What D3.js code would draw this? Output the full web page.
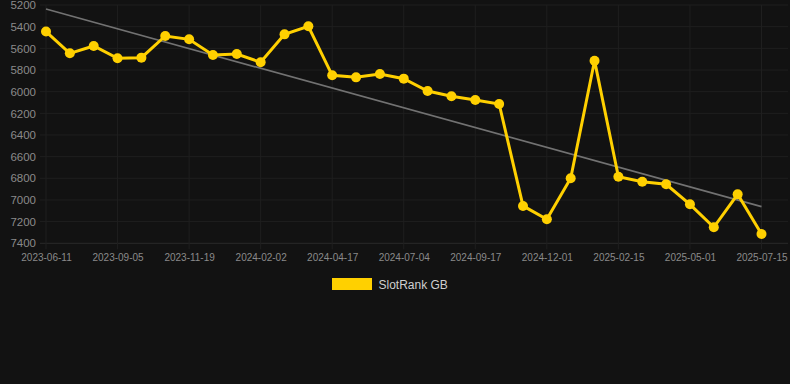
<!DOCTYPE html>
<html>
<head>
<meta charset="utf-8">
<script src="https://cdn.jsdelivr.net/npm/d3@7"></script>
<style>
  body{margin:0;background:#121212;}
  svg{display:block;font-family:"Liberation Sans",Arial,sans-serif;}
</style>
</head>
<body>
<svg id="Vis" width="790" height="384"></svg>
<script>
// categories (one per snapshot)
var dates = ["2023-06-11","2023-07-10","2023-08-08","2023-09-05","2023-09-30","2023-10-25",
  "2023-11-19","2023-12-14","2024-01-08","2024-02-02","2024-02-27","2024-03-23",
  "2024-04-17","2024-05-13","2024-06-08","2024-07-04","2024-07-29","2024-08-23",
  "2024-09-17","2024-10-12","2024-11-06","2024-12-01","2024-12-26","2025-01-21",
  "2025-02-15","2025-03-12","2025-04-06","2025-05-01","2025-05-26","2025-06-20","2025-07-15"];

// SlotRank GB
var ranks = [5445,5646,5578,5692,5686,5486,5517,5662,5652,5729,
  5471,5397,5849,5868,5837,5880,5994,6043,6077,6114,
  7055,7178,6800,5714,6785,6831,6855,7040,7252,6948,7314];

// trend line end values
var trendValues = [5237, 7062];

var yTicks = [5200,5400,5600,5800,6000,6200,6400,6600,6800,7000,7200,7400];
var xTickLabels = ["2023-06-11","2023-09-05","2023-11-19","2024-02-02","2024-04-17","2024-07-04",
  "2024-09-17","2024-12-01","2025-02-15","2025-05-01","2025-07-15"];

var seriesName = "SlotRank GB";
var yellow = "#ffd000";
var gridColor = "#1f1f1f";

var svg = d3.select("#Vis");
var plotLeft = 40, plotRight = 788, plotTop = 5, plotBottom = 243.3;

var x = d3.scalePoint().domain(dates).range([46, 761.5]);
var y = d3.scaleLinear().domain([5200, 7400]).range([plotTop, plotBottom]);

// horizontal grid
svg.append("g").selectAll("line.hgrid")
   .data(yTicks)
   .enter().append("line")
   .attr("class","hgrid")
   .attr("x1", plotLeft).attr("x2", plotRight)
   .attr("y1", function(d){ return y(d); })
   .attr("y2", function(d){ return y(d); })
   .attr("stroke", function(d){ return d == 7400 ? "#2a2a2a" : gridColor; })
   .attr("stroke-width", 1);

// vertical grid + ticks
svg.append("g").selectAll("line.vgrid")
   .data(xTickLabels)
   .enter().append("line")
   .attr("class","vgrid")
   .attr("x1", function(d){ return x(d); })
   .attr("x2", function(d){ return x(d); })
   .attr("y1", plotTop).attr("y2", plotBottom + 6)
   .attr("stroke", gridColor).attr("stroke-width", 1);

// y axis labels
var yAxis = d3.axisLeft(y).tickValues(yTicks).tickSize(0).tickPadding(0).tickFormat(d3.format("d"));
var gy = svg.append("g").attr("transform","translate(36,0)").call(yAxis);
gy.select(".domain").remove();
gy.selectAll("text").attr("fill","#8a8a8a").style("font-size","11.5px");

// x axis labels
var xAxis = d3.axisBottom(x).tickValues(xTickLabels).tickSize(0).tickPadding(0);
var gx = svg.append("g").attr("transform","translate(0,254)").call(xAxis);
gx.select(".domain").remove();
gx.selectAll("text").attr("fill","#8a8a8a").style("font-size","10px");

// trend line
svg.append("line")
   .attr("x1", x(dates[0])).attr("x2", x(dates[dates.length-1]))
   .attr("y1", y(trendValues[0])).attr("y2", y(trendValues[1]))
   .attr("stroke", "#727272").attr("stroke-width", 1.7);

// series line
var line = d3.line()
   .x(function(d,i){ return x(dates[i]); })
   .y(function(d){ return y(d); });

svg.append("path")
   .datum(ranks)
   .attr("d", line)
   .attr("fill","none")
   .attr("stroke", yellow)
   .attr("stroke-width", 3);

svg.append("g").selectAll("circle.dot")
   .data(ranks)
   .enter().append("circle")
   .attr("class","dot")
   .attr("cx", function(d,i){ return x(dates[i]); })
   .attr("cy", function(d){ return y(d); })
   .attr("r", 5)
   .attr("fill", yellow);

// legend
var legend = svg.append("g").attr("transform","translate(332,278)");
legend.append("rect").attr("width",40).attr("height",12).attr("fill",yellow);
legend.append("text").attr("x",46.5).attr("y",10.5)
   .attr("fill","#cfcfcf").style("font-size","12px").text(seriesName);
</script>
</body>
</html>
